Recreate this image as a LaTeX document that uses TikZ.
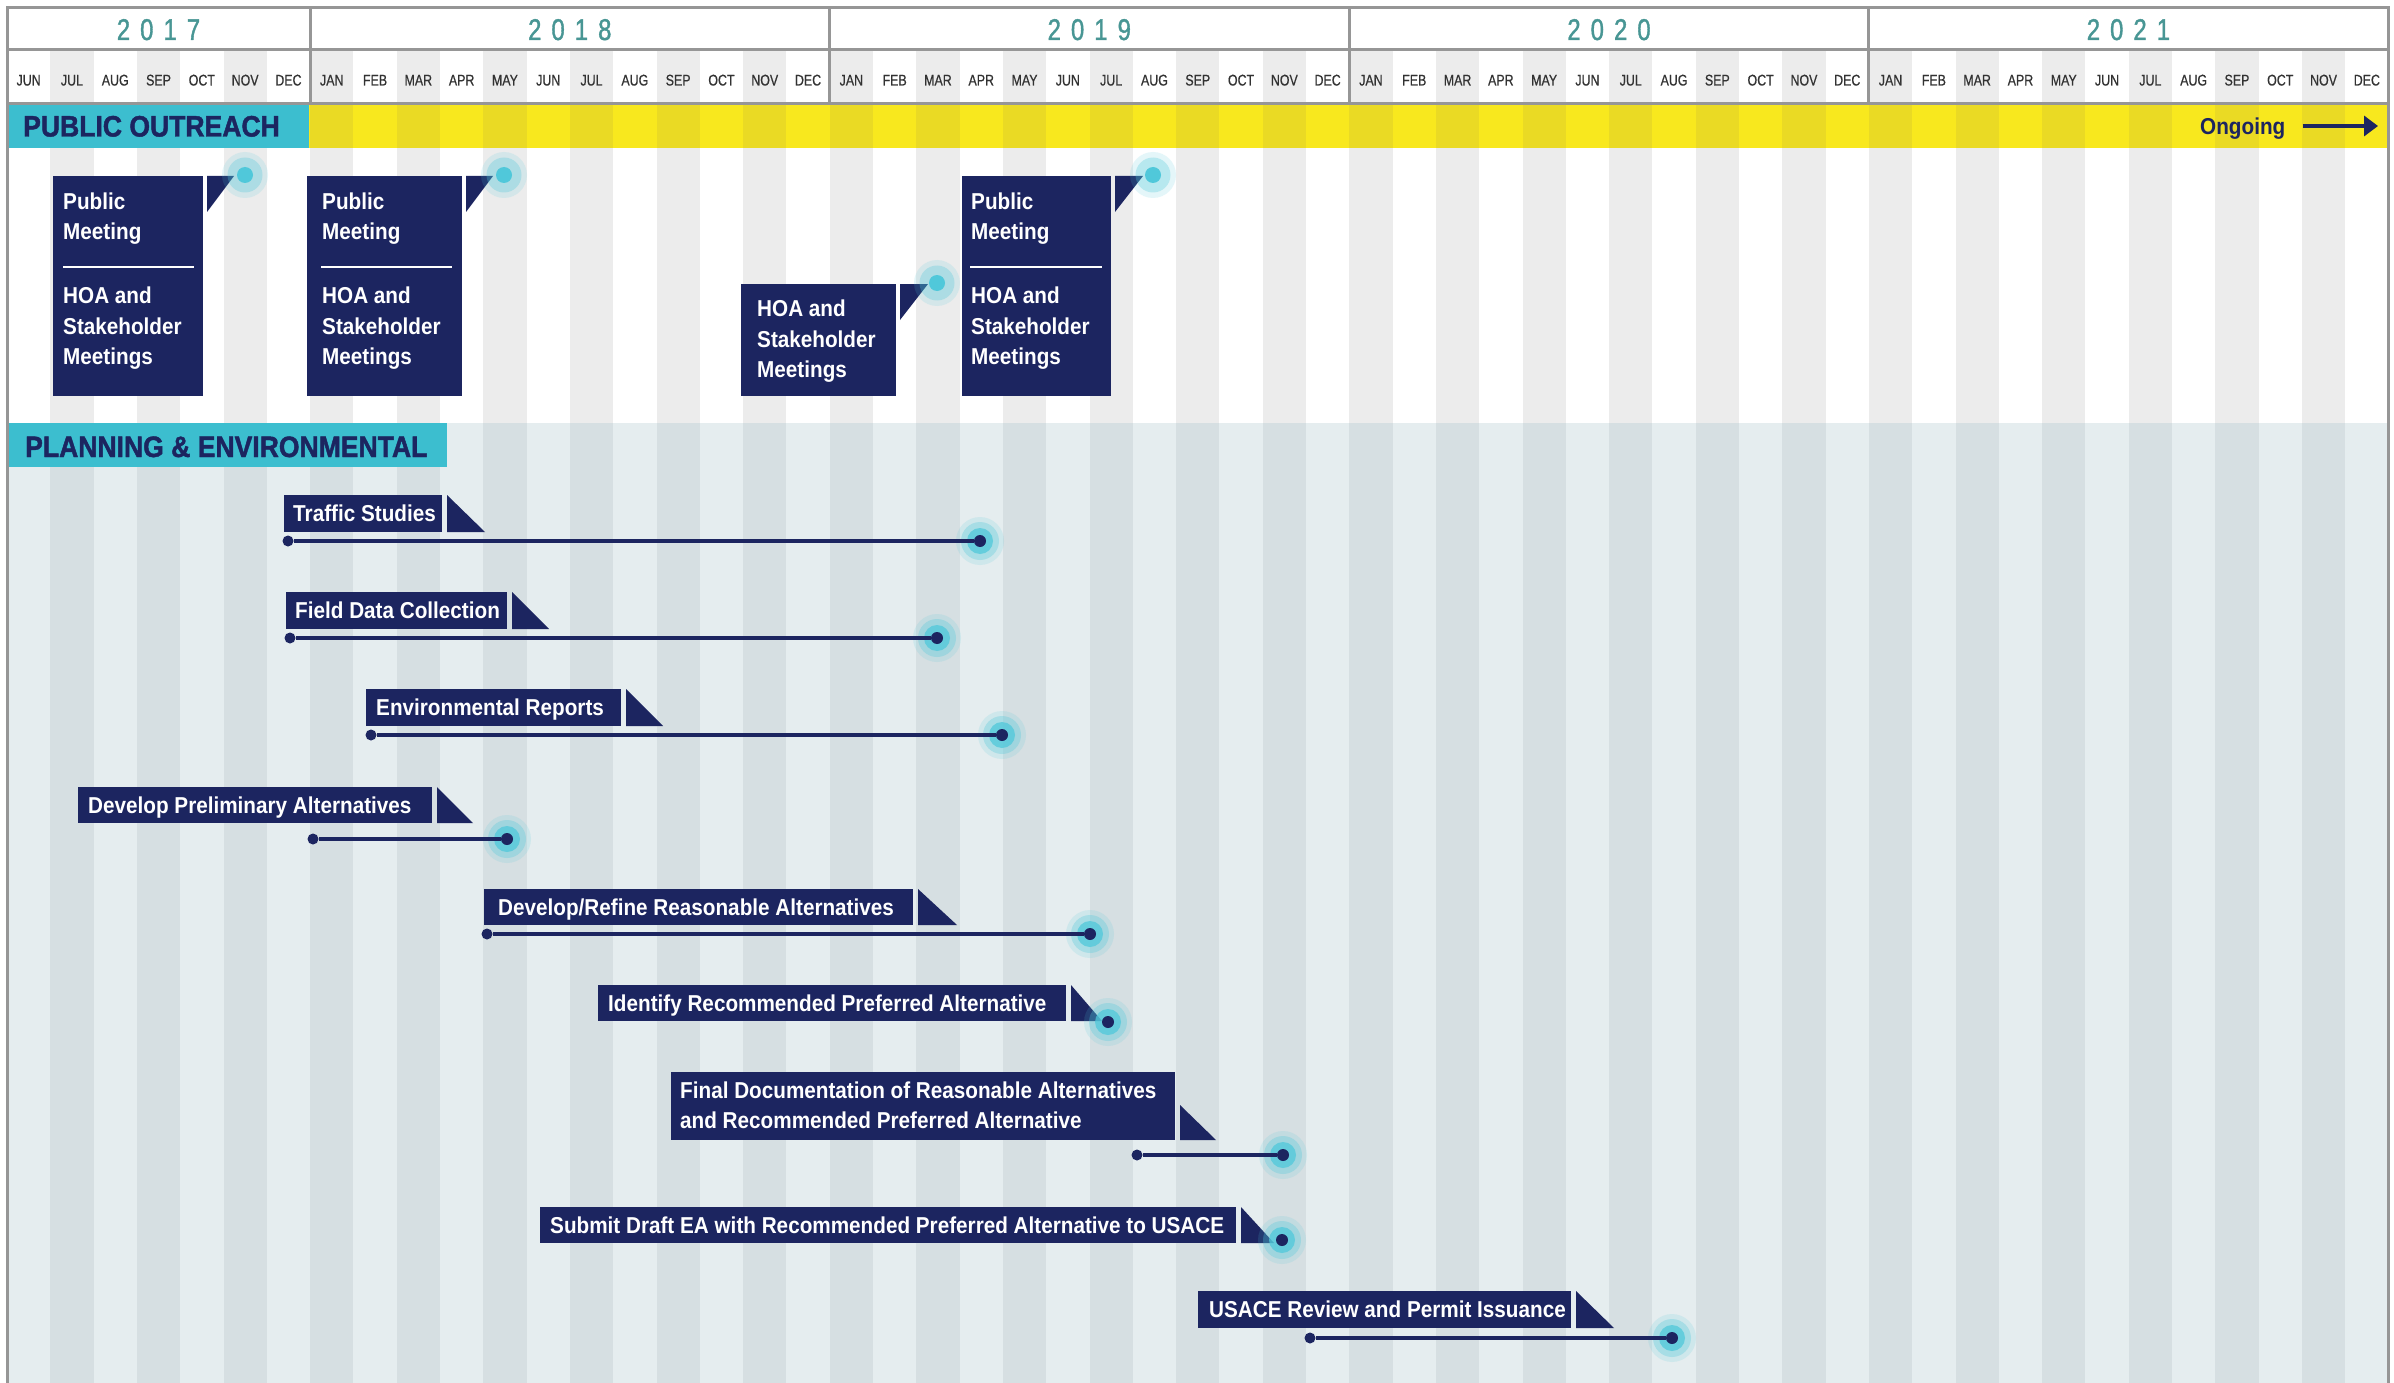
\documentclass[tikz,border=0pt]{standalone}
\usepackage{fontspec}
\setmainfont{Liberation Sans}
\newfontfamily\labf[FakeStretch=0.9]{Liberation Sans}
\newfontfamily\narf[FakeStretch=0.8,FakeBold=0.6]{Liberation Sans}
\newfontfamily\yearf[FakeStretch=0.8,FakeBold=1.2]{Liberation Sans}
\newfontfamily\headf[FakeStretch=0.9,FakeBold=1.5]{Liberation Sans}
\usetikzlibrary{arrows.meta}

\definecolor{navy}{RGB}{28,37,96}
\definecolor{cyanlab}{RGB}{60,190,207}
\definecolor{glowc}{RGB}{80,200,218}
\definecolor{yel}{RGB}{248,232,30}
\definecolor{yelS}{RGB}{234,218,36}
\definecolor{grayS}{RGB}{236,236,236}
\definecolor{planbg}{RGB}{229,237,239}
\definecolor{planS}{RGB}{214,223,226}
\definecolor{framec}{RGB}{150,150,150}
\definecolor{yeartxt}{RGB}{72,150,148}
\definecolor{monthtxt}{RGB}{50,50,50}

\tikzset{
 lab/.style={font=\labf\bfseries\fontsize{23}{23}\selectfont, text=white, inner sep=0, anchor=base west},
 monthlab/.style={font=\narf\fontsize{15.5}{15.5}\selectfont, text=monthtxt, inner sep=0, anchor=base},
 yearlab/.style={font=\yearf\fontsize{30}{30}\selectfont, text=yeartxt, inner sep=0, anchor=base},
 head/.style={font=\headf\bfseries\fontsize{29.5}{29.5}\selectfont, text=navy, inner sep=0, anchor=base west},
 tline/.style={navy, line width=3.5},
 sdot/.style={circle, fill=navy, inner sep=0, minimum size=11},
 edot/.style={circle, fill=navy, inner sep=0, minimum size=12},
 pdot/.style={circle, fill=glowc, inner sep=0, minimum size=16},
 divider/.style={white, line width=2.2},
 framel/.style={framec, line width=3},
}

\newcommand\yrspaced[4]{#1\kern10pt#2\kern10pt#3\kern10pt#4}

% name, L, T, R, B, triR, textX, text
\newcommand\tasklab[8]{%
  \fill[navy] (#2,#3) rectangle (#4,#5);
  \pgfmathsetmacro\tlx{#4+5}
  \fill[navy] (\tlx,#3) -- (\tlx,#5) -- (#6,#5) -- cycle;
  \pgfmathsetmacro\bly{(#3+#5)/2+8.3}
  \node[lab] (#1) at (#7,\bly) {#8};
}
\newcommand\taskglow[3]{%
  \fill[glowc,opacity=0.15] (#2,#3) circle (24);
  \fill[glowc,opacity=0.3] (#2,#3) circle (19);
  \fill[glowc,opacity=0.75] (#2,#3) circle (13);
  \node[edot] (#1) at (#2,#3) {};
}
\newcommand\pubglow[3]{%
  \fill[glowc,opacity=0.15] (#2,#3) circle (23);
  \fill[glowc,opacity=0.3] (#2,#3) circle (17.5);
  \node[pdot] (#1) at (#2,#3) {};
}

\begin{document}
\begin{tikzpicture}[x=1pt,y=-1pt]
\useasboundingbox (0,0) rectangle (2394,1383);
\fill[white] (0,0) rectangle (2394,1383);

% backgrounds
\fill[planbg] (7,423) rectangle (2388,1383);
\fill[yel] (309,104) rectangle (2388,148);
\foreach \m in {1,3,...,53} {
  \pgfmathsetmacro\xa{7+43.3*\m}
  \pgfmathsetmacro\xb{7+43.3*(\m+1)}
  \fill[grayS] (\xa,50) rectangle (\xb,104);
  \fill[grayS] (\xa,148) rectangle (\xb,423);
  \fill[planS] (\xa,423) rectangle (\xb,1383);
}
\foreach \m in {7,9,...,53} {
  \pgfmathsetmacro\xa{7+43.3*\m}
  \pgfmathsetmacro\xb{7+43.3*(\m+1)}
  \fill[yelS] (\xa,104) rectangle (\xb,148);
}
\fill[cyanlab] (7,104) rectangle (309,148);
\fill[cyanlab] (7,423) rectangle (447,467);

% frame
\draw[framel] (7,1383) -- (7,8) -- (2388,8) -- (2388,1383);
\draw[framel] (7,50) -- (2388,50);
\draw[framel] (7,104) -- (2388,104);
\foreach \m in {7,19,31,43} {
  \pgfmathsetmacro\xa{7+43.3*\m}
  \draw[framel] (\xa,8) -- (\xa,104);
}

% years
\node[yearlab] (y2017) at (158.5,40) {\yrspaced2017};
\node[yearlab] (y2018) at (569.8,40) {\yrspaced2018};
\node[yearlab] (y2019) at (1089.3,40) {\yrspaced2019};
\node[yearlab] (y2020) at (1609,40) {\yrspaced2020};
\node[yearlab] (y2021) at (2128.4,40) {\yrspaced2021};

% months
\foreach \mo [count=\i from 0] in {JUN,JUL,AUG,SEP,OCT,NOV,DEC,
  JAN,FEB,MAR,APR,MAY,JUN,JUL,AUG,SEP,OCT,NOV,DEC,
  JAN,FEB,MAR,APR,MAY,JUN,JUL,AUG,SEP,OCT,NOV,DEC,
  JAN,FEB,MAR,APR,MAY,JUN,JUL,AUG,SEP,OCT,NOV,DEC,
  JAN,FEB,MAR,APR,MAY,JUN,JUL,AUG,SEP,OCT,NOV,DEC} {
  \pgfmathsetmacro\xc{7+43.3*(\i+0.5)}
  \node[monthlab] (mon\i) at (\xc,85.5) {\mo};
}

% headings
\node[head] (hpub) at (23,136.5) {PUBLIC OUTREACH};
\node[head] (hplan) at (25,457) {PLANNING \& ENVIRONMENTAL};
\node[font=\labf\bfseries\fontsize{23}{23}\selectfont, text=navy, inner sep=0, anchor=base west] (ongo) at (2200,134.5) {Ongoing};
\coordinate (ongoEnd) at (2378,126);
\draw[navy, line width=3.5, shorten <=17pt, -{Triangle[length=14,width=20]}] (ongo.east |- ongoEnd) -- (ongoEnd);

% public meeting boxes
% box 1
\fill[navy] (53,176) rectangle (203,396);
\node[lab] (pm1a) at (63,210) {Public};
\node[lab] (pm1b) at (63,240) {Meeting};
\draw[divider] (63,267) -- (194,267);
\node[lab] (pm1c) at (63,303) {HOA and};
\node[lab] (pm1d) at (63,334) {Stakeholder};
\node[lab] (pm1e) at (63,364) {Meetings};
\fill[navy] (207,176) -- (234,176) -- (207,212) -- cycle;
\pubglow{pg1}{245}{175}
% box 2
\fill[navy] (307,176) rectangle (462,396);
\node[lab] (pm2a) at (322,210) {Public};
\node[lab] (pm2b) at (322,240) {Meeting};
\draw[divider] (321,267) -- (452,267);
\node[lab] (pm2c) at (322,303) {HOA and};
\node[lab] (pm2d) at (322,334) {Stakeholder};
\node[lab] (pm2e) at (322,364) {Meetings};
\fill[navy] (466,176) -- (493,176) -- (466,212) -- cycle;
\pubglow{pg2}{504}{175}
% HOA box
\fill[navy] (741,284) rectangle (896,396);
\node[lab] (hoa1) at (757,316) {HOA and};
\node[lab] (hoa2) at (757,347) {Stakeholder};
\node[lab] (hoa3) at (757,377) {Meetings};
\fill[navy] (900,284) -- (928,284) -- (900,320) -- cycle;
\pubglow{pg3}{937}{283}
% box 3
\fill[navy] (962,176) rectangle (1111,396);
\node[lab] (pm3a) at (971,210) {Public};
\node[lab] (pm3b) at (971,240) {Meeting};
\draw[divider] (970,267) -- (1102,267);
\node[lab] (pm3c) at (971,303) {HOA and};
\node[lab] (pm3d) at (971,334) {Stakeholder};
\node[lab] (pm3e) at (971,364) {Meetings};
\fill[navy] (1115,176) -- (1143,176) -- (1115,212) -- cycle;
\pubglow{pg4}{1153}{175}

% tasks
\tasklab{t1}{284}{495}{442}{532}{485}{293}{Traffic Studies}
\node[sdot] (t1s) at (288,541) {};
\taskglow{t1e}{980}{541}
\draw[tline] (t1s) -- (t1e);

\tasklab{t2}{286}{592}{507}{629}{549}{295}{Field Data Collection}
\node[sdot] (t2s) at (290,638) {};
\taskglow{t2e}{937}{638}
\draw[tline] (t2s) -- (t2e);

\tasklab{t3}{366}{689}{621}{726}{663}{376}{Environmental Reports}
\node[sdot] (t3s) at (371,735) {};
\taskglow{t3e}{1002}{735}
\draw[tline] (t3s) -- (t3e);

\tasklab{t4}{78}{787}{432}{823}{473}{88}{Develop Preliminary Alternatives}
\node[sdot] (t4s) at (313,839) {};
\taskglow{t4e}{507}{839}
\draw[tline] (t4s) -- (t4e);

\tasklab{t5}{484}{889}{913}{925}{957}{498}{Develop/Refine Reasonable Alternatives}
\node[sdot] (t5s) at (487,934) {};
\taskglow{t5e}{1090}{934}
\draw[tline] (t5s) -- (t5e);

\tasklab{t6}{598}{985}{1066}{1021}{1102}{608}{Identify Recommended Preferred Alternative}
\taskglow{t6e}{1108}{1022}

% final documentation (two lines)
\fill[navy] (671,1072) rectangle (1175,1140);
\fill[navy] (1180,1105) -- (1180,1140) -- (1216,1140) -- cycle;
\node[lab] (t7a) at (680,1098) {Final Documentation of Reasonable Alternatives};
\node[lab] (t7b) at (680,1128) {and Recommended Preferred Alternative};
\node[sdot] (t7s) at (1137,1155) {};
\taskglow{t7e}{1283}{1155}
\draw[tline] (t7s) -- (t7e);

\tasklab{t8}{540}{1207}{1236}{1243}{1274}{550}{Submit Draft EA with Recommended Preferred Alternative to USACE}
\taskglow{t8e}{1282}{1240}

\tasklab{t9}{1198}{1291}{1571}{1328}{1614}{1209}{USACE Review and Permit Issuance}
\node[sdot] (t9s) at (1310,1338) {};
\taskglow{t9e}{1672}{1338}
\draw[tline] (t9s) -- (t9e);

\end{tikzpicture}
\end{document}
